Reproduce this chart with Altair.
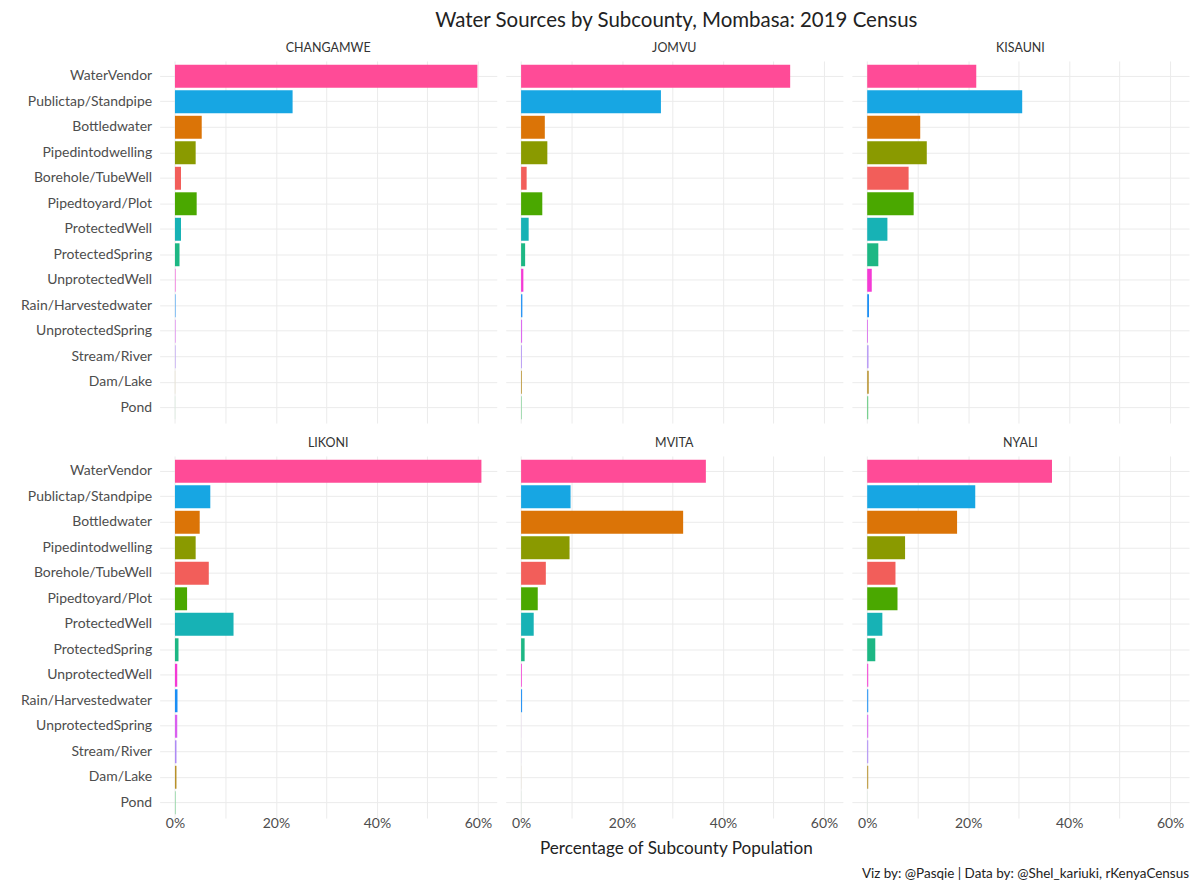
import altair as alt
import pandas as pd

sources = ["WaterVendor", "Publictap/Standpipe", "Bottledwater", "Pipedintodwelling",
           "Borehole/TubeWell", "Pipedtoyard/Plot", "ProtectedWell", "ProtectedSpring",
           "UnprotectedWell", "Rain/Harvestedwater", "UnprotectedSpring", "Stream/River",
           "Dam/Lake", "Pond"]
subcounties = ["CHANGAMWE", "JOMVU", "KISAUNI", "LIKONI", "MVITA", "NYALI"]

# percentage of subcounty population, in the order of `sources`
changamwe = [59.9, 23.3, 5.3, 4.1, 1.2, 4.3, 1.2, 0.9, 0.1, 0.1, 0.1, 0.1, 0.02, 0.02]
jomvu = [53.3, 27.7, 4.7, 5.2, 1.1, 4.2, 1.5, 0.8, 0.45, 0.25, 0.2, 0.15, 0.15, 0.1]
kisauni = [21.6, 30.7, 10.5, 11.8, 8.2, 9.2, 4.0, 2.2, 0.9, 0.35, 0.15, 0.25, 0.3, 0.2]
likoni = [60.7, 7.0, 4.9, 4.1, 6.7, 2.4, 11.6, 0.7, 0.45, 0.5, 0.45, 0.3, 0.3, 0.1]
mvita = [36.6, 9.8, 32.1, 9.6, 4.9, 3.3, 2.5, 0.7, 0.15, 0.2, 0.01, 0.01, 0.01, 0.01]
nyali = [36.6, 21.4, 17.8, 7.5, 5.6, 6.0, 3.0, 1.6, 0.2, 0.2, 0.2, 0.2, 0.2, 0.01]

colors = ["#FF4B97", "#17A6E3", "#DB7407", "#8A9A00", "#F25E5A", "#4AA800", "#17B2B5",
          "#1DB784", "#F43AD5", "#1A8EF5", "#D95FEF", "#AE8AF5", "#B8912A", "#5CC878"]

series = [changamwe, jomvu, kisauni, likoni, mvita, nyali]
rows = []
for sc, vals in zip(subcounties, series):
    for s, v in zip(sources, vals):
        rows.append({"subcounty": sc, "source": s, "pct": v / 100.0})
df = pd.DataFrame(rows)

FONT = "Lato"

base = alt.Chart(df).mark_bar().encode(
    x=alt.X("pct:Q",
            scale=alt.Scale(domain=[-0.0304, 0.6374], nice=False, zero=False),
            axis=alt.Axis(values=[0, 0.1, 0.2, 0.3, 0.4, 0.5, 0.6],
                          labelExpr="round(datum.value*100) % 20 == 0 ? format(datum.value, '.0%') : ''",
                          title=None, ticks=False, domain=False, grid=True,
                          gridColor="#EBEBEB", gridWidth=1,
                          labelColor="#4D4D4D", labelFontSize=14, labelFont=FONT,
                          labelPadding=-2)),
    x2=alt.datum(0),
    y=alt.Y("source:N", sort=sources,
            scale=alt.Scale(paddingInner=0.1, paddingOuter=0.15),
            axis=alt.Axis(title=None, ticks=False, domain=False, grid=True,
                          bandPosition=0.5, gridColor="#EBEBEB", gridWidth=1,
                          labelColor="#4D4D4D", labelFontSize=14, labelFont=FONT,
                          labelPadding=8, minExtent=152, maxExtent=152)),
    color=alt.Color("source:N", scale=alt.Scale(domain=sources, range=colors), legend=None),
).properties(width=338, height=363)

facet = base.facet(
    facet=alt.Facet("subcounty:N", sort=subcounties,
                    header=alt.Header(title=None, labelFontSize=12.5, labelColor="#333333",
                                      labelFont=FONT, labelPadding=6)),
    columns=3,
    spacing={"column": 9, "row": 14},
).properties(
    title=alt.TitleParams("Percentage of Subcounty Population", orient="bottom",
                          anchor="middle", fontSize=17.2, fontWeight="normal",
                          font=FONT, color="#222222", offset=10, dx=78)
)

inner = alt.vconcat(facet).properties(
    title=alt.TitleParams("Water Sources by Subcounty, Mombasa: 2019 Census",
                          anchor="middle", fontSize=20.5, fontWeight="normal",
                          font=FONT, color="#222222", offset=11, dx=78)
)

chart = alt.vconcat(inner).properties(
    title=alt.TitleParams("Viz by: @Pasqie | Data by: @Shel_kariuki, rKenyaCensus",
                          orient="bottom", anchor="end", fontSize=13.5,
                          fontWeight="normal", font=FONT, color="#222222", offset=10),
    padding={"left": 0, "top": 2, "right": 3, "bottom": 3},
).configure_view(stroke=None).configure_concat(spacing=0)

chart.save("out.html", embed_options={"renderer": "svg", "actions": False})
